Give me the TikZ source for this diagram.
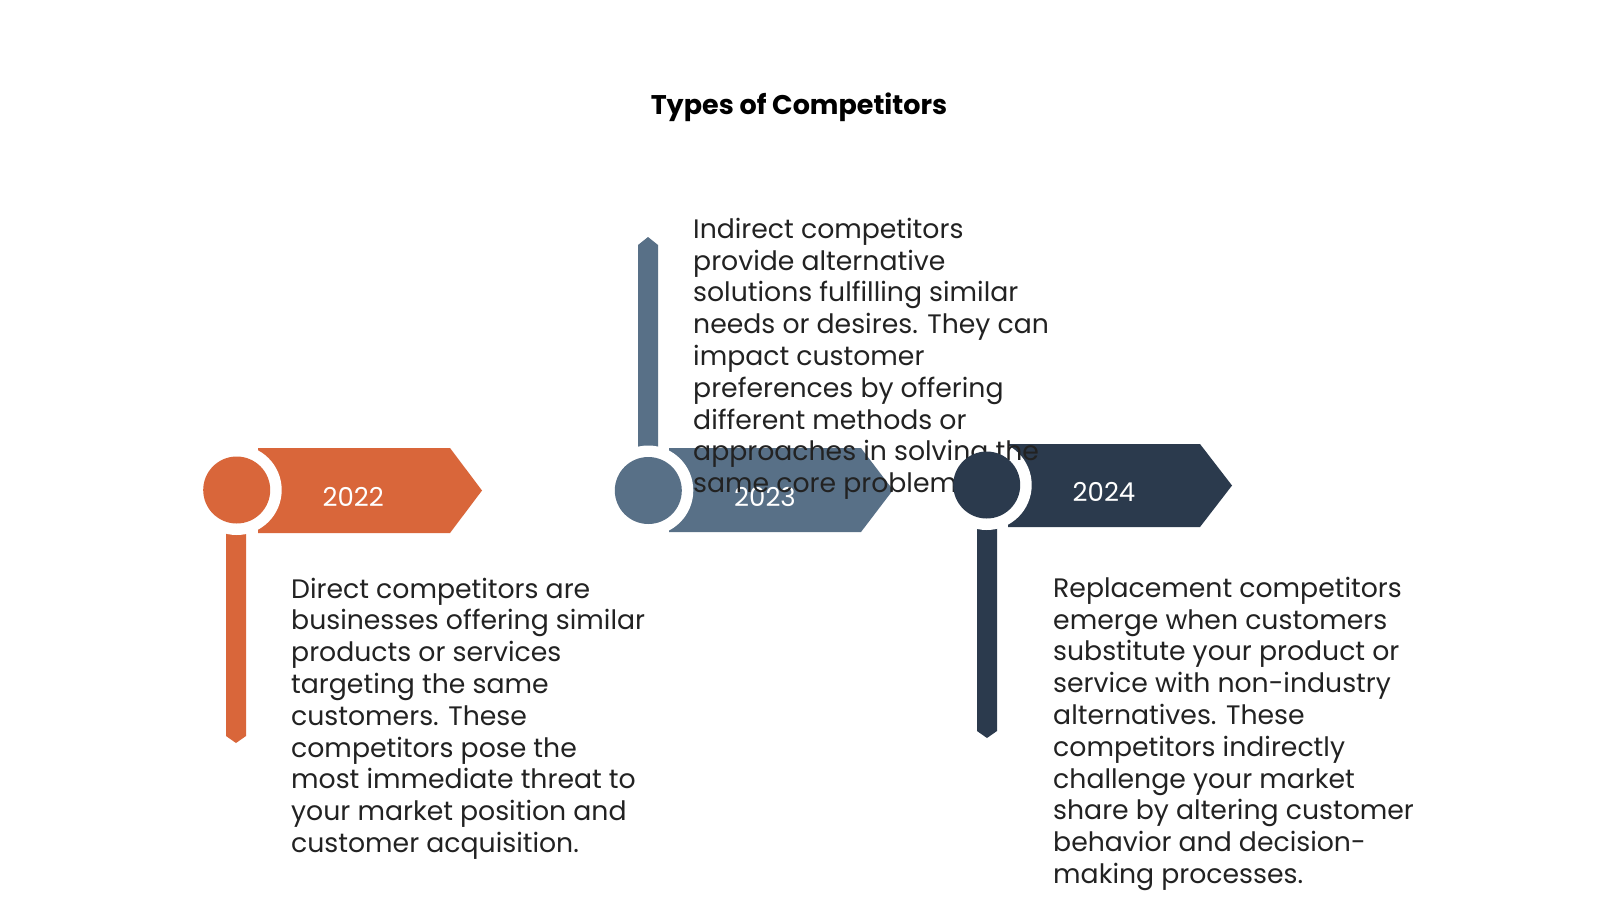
\documentclass[tikz,border=0pt]{standalone}
\usepackage{fontspec}
\setmainfont{Poppins}
\definecolor{corange}{HTML}{D9663A}
\definecolor{cslate}{HTML}{587087}
\definecolor{cnavy}{HTML}{2B3A4D}
\definecolor{ctext}{HTML}{222222}
\tikzset{
  desc/.style={anchor=base west, inner sep=0pt, text=ctext},
  yearlabel/.style={anchor=base, inner sep=0pt, text=white, font=\fontsize{26}{30}\selectfont},
  ringnode/.style={circle, fill=white, minimum size=90pt, inner sep=0pt},
  dotnode/.style={circle, minimum size=67pt, inner sep=0pt},
}
\newcommand{\desclines}[1]{\fontsize{26.7}{31.8}\selectfont\begin{tabular}[t]{@{}l@{}}#1\end{tabular}}
\begin{document}
\begin{tikzpicture}[x=1pt,y=-1pt]
\useasboundingbox (0,0) rectangle (1600,900);
\fill[white] (0,0) rectangle (1600,900);

\node[anchor=base, inner sep=0pt, font=\fontsize{27}{30}\selectfont\bfseries] (title) at (799,114.5) {Types of Competitors};

% ---- 2022 ----
\fill[corange] (226,490) -- (246,490) -- (246,736) -- (236,743) -- (226,736) -- cycle;
\fill[corange] (258,448) -- (450,448) -- (482,490.5) -- (450,533) -- (258,533) -- cycle;
\node[ringnode] (ring1) at (236.7,490) {};
\node[dotnode, fill=corange] (dot1) at (236.7,490) {};
\node[yearlabel] (y1) at (353.3,506.7) {2022};
\node[desc] (d1) at (291,598) {\desclines{Direct competitors are\\
businesses offering similar\\
products or services\\
targeting the same\\
customers. These\\
competitors pose the\\
most immediate threat to\\
your market position and\\
customer acquisition.}};

% ---- 2023 ----
\fill[cslate] (638,490) -- (638,245) -- (648,237) -- (658,245) -- (658,490) -- cycle;
\fill[cslate] (669,448) -- (861,448) -- (893,490) -- (861,532) -- (669,532) -- cycle;
\node[ringnode] (ring2) at (648.3,490.5) {};
\node[dotnode, fill=cslate] (dot2) at (648.3,490.5) {};
\node[yearlabel] (y2) at (765,506.7) {2023};

% ---- 2024 (under the 2023 text) ----
\fill[cnavy] (977,485) -- (997,485) -- (997,731) -- (987,738) -- (977,731) -- cycle;
\fill[cnavy] (1008,444) -- (1200,444) -- (1232,485.5) -- (1200,527) -- (1008,527) -- cycle;
\node[ringnode] (ring3) at (986.7,485) {};

\node[desc] (d2) at (693,238.3) {\desclines{Indirect competitors\\
provide alternative\\
solutions fulfilling similar\\
needs or desires. They can\\
impact customer\\
preferences by offering\\
different methods or\\
approaches in solving the\\
same core problem.}};

% ---- 2024 (over the 2023 text) ----
\node[dotnode, fill=cnavy] (dot3) at (986.7,485) {};
\node[yearlabel] (y3) at (1104,501.7) {2024};
\node[desc] (d3) at (1053,597.3) {\desclines{Replacement competitors\\
emerge when customers\\
substitute your product or\\
service with non-industry\\
alternatives. These\\
competitors indirectly\\
challenge your market\\
share by altering customer\\
behavior and decision-\\
making processes.}};
\end{tikzpicture}
\end{document}
